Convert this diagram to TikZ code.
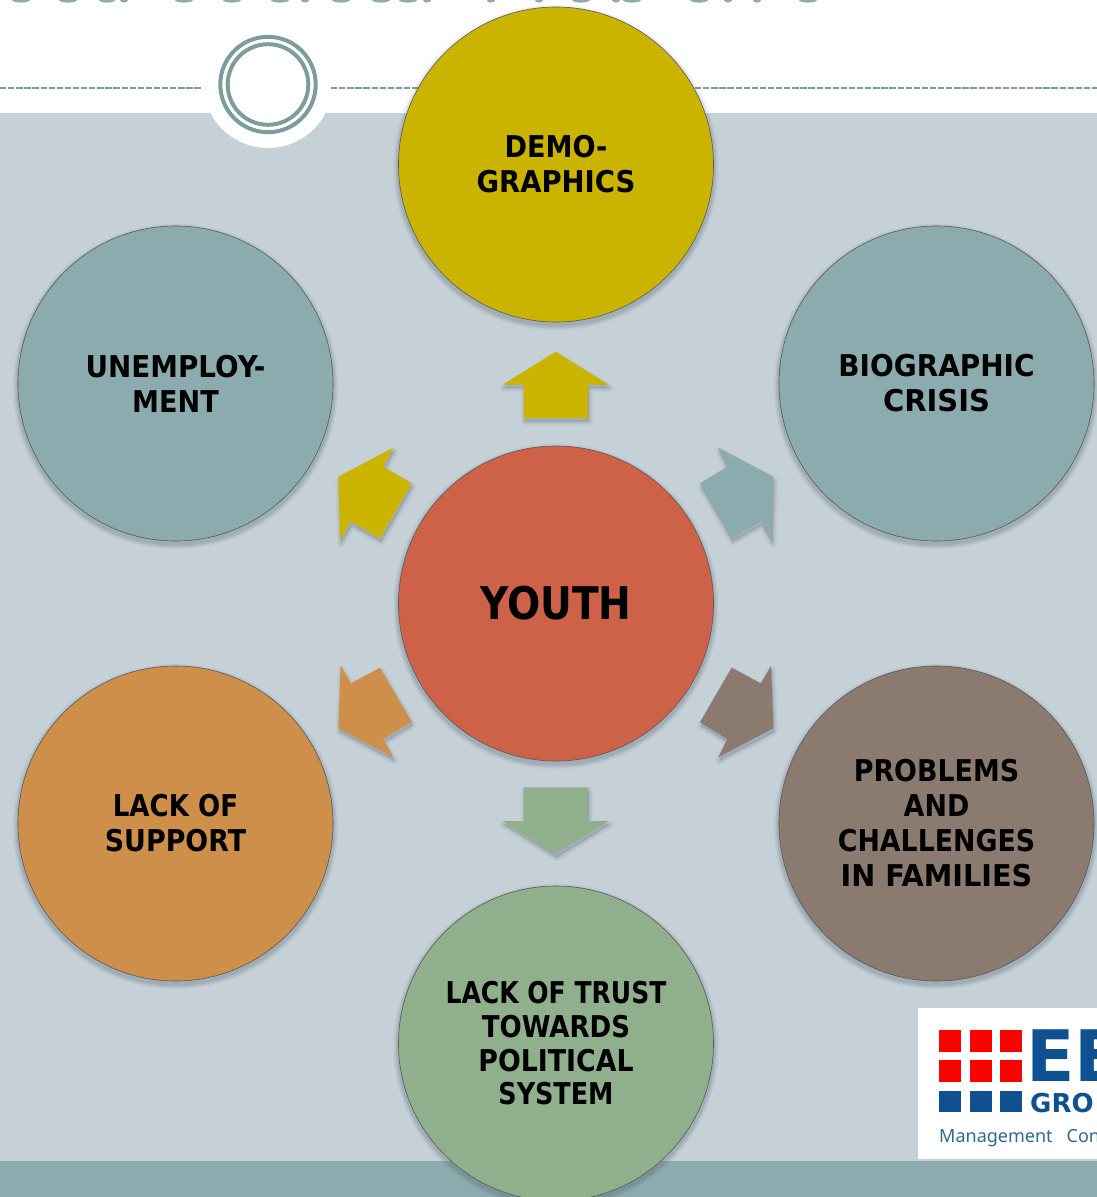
\documentclass[tikz,border=0pt]{standalone}
\usepackage{graphicx}
\usepackage{fontspec}
\setmainfont{Noto Sans}
\newfontfamily\boldface[FakeStretch=0.87]{DejaVu Sans Bold}
\newfontfamily\logoface{DejaVu Sans Bold}
\newcommand{\widen}[2]{\scalebox{#1}[1]{#2}}
\definecolor{panel}{HTML}{C5D1D7}
\definecolor{band}{HTML}{8CABAE}
\definecolor{ringc}{HTML}{7D9C9C}
\definecolor{yel}{HTML}{CBB400}
\definecolor{teal2}{HTML}{8CABAE}
\definecolor{redc}{HTML}{CE6249}
\definecolor{orangec}{HTML}{CE8F4A}
\definecolor{brownc}{HTML}{8B7A6F}
\definecolor{greenc}{HTML}{90AF8C}
\definecolor{shadowc}{HTML}{55606B}
\definecolor{logoblue}{HTML}{0F5090}
\definecolor{logotext}{HTML}{2F6A8F}
\tikzset{
  disc/.style={circle,minimum size=315pt,inner sep=0pt,draw=black!65,line width=0.6pt,
    align=center,text=black,font=\boldface\fontsize{30}{35}\selectfont},
  rule/.style={draw=ringc,line width=1.7pt,dash pattern=on 6.3pt off 1.8pt},
  ringline/.style={draw=ringc,line width=4pt},
  sliver/.style={fill=ringc!85!white},
}
\newcommand{\softdisc}[2]{%
  \foreach \rr/\oo in {163/.04,162/.05,161/.07,160/.08,159/.10}
    \fill[shadowc,opacity=\oo] (#1,#2+3) circle (\rr pt);}
\newcommand{\blockarrow}[2]{%
  \foreach \ww/\oo in {8/.04,6/.05,4/.06,2/.07}
    \draw[shadowc,fill=shadowc,opacity=\oo,line width=\ww pt,line join=round,shift={(1,3.5)}] #2;
  \fill[#1] #2;}
\begin{document}
\begin{tikzpicture}[x=1pt,y=-1pt]
\useasboundingbox (0,0) rectangle (1097,1197);
\begin{scope}
\clip (0,0) rectangle (1097,1197);
% background
\fill[white] (0,0) rectangle (1097,1197);
\fill[panel] (0,113) rectangle (1097,1161);
\fill[band] (0,1161) rectangle (1097,1197);
\fill[white] (268,83.3) circle (64.7pt);
% cropped title slivers
\foreach \sx/\sw in {21/9,68/9,107/8,124/4,184/9,232/9,280/9,305/4,341/9,381/9,408/9,427/4,491/4,539/4,581/9,616/4,632/9,699/9,728/4,757/4,808/9}
  \fill[sliver] (\sx,0) ellipse (\sw pt and 2.6pt);
% header rule and rings
\draw[rule] (0,88) -- (202,88);
\draw[rule] (331,88) -- (425,88);
\draw[rule] (695,88) -- (1097,88);
\draw[ringline] (268,84.5) circle (47.7pt);
\draw[ringline] (268,84.5) circle (40.3pt);
% logo
\fill[white] (918,1008) rectangle (1097,1159);
\foreach \lx in {939.3,970,1000.3}{
  \fill[red] (\lx,1030) rectangle ++(21.7,21.7);
  \fill[red] (\lx,1060) rectangle ++(21.7,21.7);
  \fill[logoblue] (\lx,1090.7) rectangle ++(21.7,21.7);
}
\node[anchor=base west,inner sep=0pt,text=logoblue,font=\logoface\fontsize{71}{71}\selectfont] (logoee) at (1026,1081.7) {EE};
\node[anchor=base west,inner sep=0pt,text=logoblue,font=\logoface\fontsize{26}{26}\selectfont] (logogro) at (1030,1112) {GRO};
\node[anchor=base west,inner sep=0pt,text=logotext,font=\fontsize{18}{18}\selectfont] (logomc) at (939,1142) {Management\hspace{14pt}Con};
% shadows
\softdisc{556}{164.5}\softdisc{175.5}{383.5}\softdisc{936.5}{383.5}\softdisc{556}{603.5}
\softdisc{175.5}{823.5}\softdisc{936.5}{823.5}\softdisc{556}{1043.5}
% discs
\node[disc,fill=yel] (demo) at (556,164.5) {\widen{1.04}{DEMO-}\\\widen{1.053}{GRAPHICS}};
\node[disc,fill=teal2] (unemp) at (175.5,383.5) {\widen{1.065}{UNEMPLOY-}\\\widen{1.037}{MENT}};
\node[disc,fill=teal2] (bio) at (936.5,383.5) {\widen{1.07}{BIOGRAPHIC}\\\widen{1.11}{CRISIS}};
\node[disc,fill=redc,font=\boldface\fontsize{45}{50}\selectfont] (youth) at (556,603.5) {YOUTH};
\node[disc,fill=orangec] (support) at (175.5,823.5) {LACK OF\\\widen{1.03}{SUPPORT}};
\node[disc,fill=brownc] (families) at (936.5,823.5) {\widen{1.03}{PROBLEMS}\\\widen{1.03}{AND}\\\widen{1.026}{CHALLENGES}\\\widen{1.10}{IN FAMILIES}};
\node[disc,fill=greenc,font=\boldface\fontsize{30}{33.7}\selectfont] (trust) at (556,1043.5) {\widen{0.96}{LACK OF TRUST}\\TOWARDS\\\widen{1.027}{POLITICAL}\\\widen{0.975}{SYSTEM}};
% arrows
\blockarrow{yel}{(555.7,351.7) -- (608.7,384.7) -- (588,384.7) -- (588,418) -- (523.7,418) -- (523.7,384.7) -- (502.7,384.7) -- cycle}
\blockarrow{yel}{(338.3,476.7) -- (393.3,447.7) -- (383.3,466.7) -- (411.7,483.3) -- (380,538.3) -- (351,521.7) -- (340,540) -- cycle}
\blockarrow{teal2}{(773.3,476.7) -- (718.3,447.7) -- (727.3,466.7) -- (700,483.3) -- (731.7,538.3) -- (760.7,521.7) -- (771.7,540) -- cycle}
\blockarrow{orangec}{(338.3,728.3) -- (393.3,757.3) -- (383.3,739) -- (411.7,721.7) -- (380,667.7) -- (351,683.3) -- (340.7,666) -- cycle}
\blockarrow{brownc}{(773.3,728.3) -- (718.3,757.3) -- (727.3,739) -- (700,722.3) -- (731.7,667.7) -- (760.7,683.3) -- (771,666) -- cycle}
\blockarrow{greenc}{(523.7,787.3) -- (588,787.3) -- (588,821) -- (608.7,821) -- (555.7,854) -- (502.7,821) -- (523.7,821) -- cycle}
\end{scope}
\end{tikzpicture}
\end{document}
